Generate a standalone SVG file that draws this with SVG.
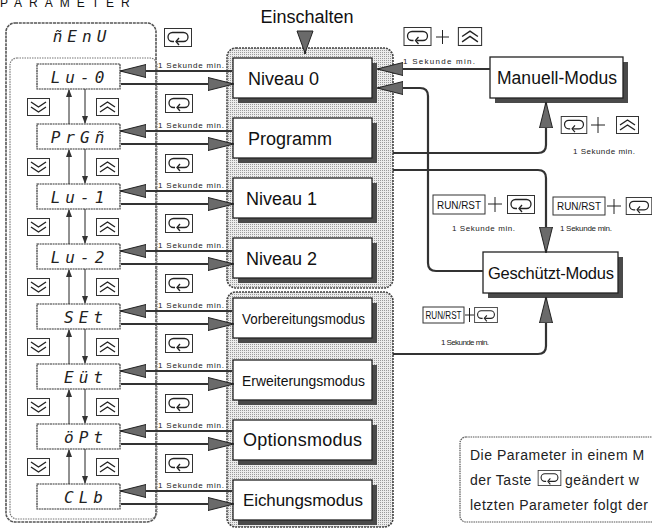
<svg xmlns="http://www.w3.org/2000/svg" xmlns:xlink="http://www.w3.org/1999/xlink" width="652" height="530" viewBox="0 0 652 530">
<defs>
<style>
text{font-family:"Liberation Sans",Arial,sans-serif;fill:#111}
.seg{font-family:"DejaVu Sans Mono",monospace;font-style:italic;font-size:16px;letter-spacing:5px;text-anchor:middle;fill:#222}
.disp{fill:#fff;stroke:#333;stroke-width:1.2;stroke-dasharray:2 0.6}
.mode{fill:#fff;stroke:#222;stroke-width:1.3}
.shadow{fill:#4a4a4a}
.cont{fill:url(#dots);stroke:#444;stroke-width:1.6;stroke-dasharray:2 1}
.mt{font-size:18px}
.sk{font-size:8px;fill:#222}
.ln{fill:none;stroke:#333;stroke-width:2.2}
.thin{fill:none;stroke:#222;stroke-width:1}
.rr{font-size:10px;text-anchor:middle}
.key{fill:#fff;stroke:#333;stroke-width:1}
.nt{font-size:14px;letter-spacing:0.5px;fill:#222}
</style>
<pattern id="dots" width="2" height="2" patternUnits="userSpaceOnUse">
<rect width="2" height="2" fill="#ececec"/>
<rect width="1" height="1" fill="#9a9a9a"/>
</pattern>
<marker id="ah" markerUnits="userSpaceOnUse" markerWidth="26" markerHeight="14" refX="25" refY="7" orient="auto">
<path d="M0,0.5 L26,7 L0,13.5 z" fill="#6a6a6a" stroke="#222" stroke-width="1"/>
</marker>
<marker id="sa" markerUnits="userSpaceOnUse" markerWidth="8" markerHeight="8" refX="7" refY="4" orient="auto">
<path d="M0,1 L8,4 L0,7 z" fill="#333"/>
</marker>
<symbol id="kEnter" viewBox="0 0 28 19">
<rect x="0.5" y="0.5" width="27" height="18" fill="#fff" stroke="#333"/>
<path d="M13 13.5 H19.5 A4.5 4.5 0 0 0 19.5 4.5 H8.5 A4.5 4.5 0 0 0 8.5 13.5 H10" fill="none" stroke="#222" stroke-width="1.3"/>
<path d="M15 10 L12 13.5 L15 17" fill="none" stroke="#222" stroke-width="1.3"/>
</symbol>
<symbol id="kDown" viewBox="0 0 23 18">
<rect x="0.5" y="0.5" width="22" height="17" fill="#fff" stroke="#333"/>
<path d="M4 4 L11.5 9 L19 4 M4 9 L11.5 14 L19 9" fill="none" stroke="#222" stroke-width="1.4"/>
</symbol>
<symbol id="kUp" viewBox="0 0 23 18">
<rect x="0.5" y="0.5" width="22" height="17" fill="#fff" stroke="#333"/>
<path d="M4 9 L11.5 4 L19 9 M4 14 L11.5 9 L19 14" fill="none" stroke="#222" stroke-width="1.4"/>
</symbol>
</defs>
<rect width="652" height="530" fill="#fff"/>

<text x="0" y="7" font-size="12" letter-spacing="7">PARAMETER</text>

<!-- left column frames -->
<g id="menu-frame">
<rect x="6" y="23" width="150" height="499" rx="9" fill="none" stroke="#555" stroke-width="1.6" stroke-dasharray="3 0.8"/>
<rect x="10" y="58" width="147" height="461" rx="7" fill="none" stroke="#777" stroke-width="1.2" stroke-dasharray="1.5 1"/>
<text class="seg" x="82" y="42" font-size="19" letter-spacing="8">ñEnU</text>
<use href="#kEnter" x="164" y="28" width="28" height="19"/>
</g>

<!-- displays -->
<g id="d-lv0"><rect class="disp" x="37" y="64" width="83" height="25"/><text class="seg" x="80" y="83">Lu-0</text></g>
<g id="d-prgm"><rect class="disp" x="37" y="124" width="83" height="25"/><text class="seg" x="80" y="143">PrGñ</text></g>
<g id="d-lv1"><rect class="disp" x="37" y="184" width="83" height="25"/><text class="seg" x="80" y="203">Lu-1</text></g>
<g id="d-lv2"><rect class="disp" x="37" y="244" width="83" height="25"/><text class="seg" x="80" y="263">Lu-2</text></g>
<g id="d-set"><rect class="disp" x="37" y="304" width="83" height="25"/><text class="seg" x="86" y="323">SEt</text></g>
<g id="d-ext"><rect class="disp" x="37" y="364" width="83" height="25"/><text class="seg" x="86" y="383">Eüt</text></g>
<g id="d-opt"><rect class="disp" x="37" y="424" width="83" height="25"/><text class="seg" x="86" y="443">öPt</text></g>
<g id="d-clb"><rect class="disp" x="37" y="484" width="83" height="25"/><text class="seg" x="86" y="503">CLb</text></g>

<!-- keys between displays -->
<g id="keys">
<use href="#kDown" x="27" y="98" width="23" height="18"/><use href="#kUp" x="96" y="98" width="23" height="18"/>
<use href="#kDown" x="27" y="158" width="23" height="18"/><use href="#kUp" x="96" y="158" width="23" height="18"/>
<use href="#kDown" x="27" y="218" width="23" height="18"/><use href="#kUp" x="96" y="218" width="23" height="18"/>
<use href="#kDown" x="27" y="278" width="23" height="18"/><use href="#kUp" x="96" y="278" width="23" height="18"/>
<use href="#kDown" x="27" y="338" width="23" height="18"/><use href="#kUp" x="96" y="338" width="23" height="18"/>
<use href="#kDown" x="27" y="398" width="23" height="18"/><use href="#kUp" x="96" y="398" width="23" height="18"/>
<use href="#kDown" x="27" y="458" width="23" height="18"/><use href="#kUp" x="96" y="458" width="23" height="18"/>
<use href="#kEnter" x="165" y="94" width="28" height="19"/>
<use href="#kEnter" x="165" y="154" width="28" height="19"/>
<use href="#kEnter" x="165" y="214" width="28" height="19"/>
<use href="#kEnter" x="165" y="274" width="28" height="19"/>
<use href="#kEnter" x="165" y="334" width="28" height="19"/>
<use href="#kEnter" x="165" y="394" width="28" height="19"/>
<use href="#kEnter" x="165" y="454" width="28" height="19"/>
</g>

<!-- "1 Sekunde min." labels in column -->
<g id="sec-labels">
<text class="sk" x="158" y="68" textLength="66">1 Sekunde min.</text>
<text class="sk" x="158" y="128" textLength="66">1 Sekunde min.</text>
<text class="sk" x="158" y="188" textLength="66">1 Sekunde min.</text>
<text class="sk" x="158" y="248" textLength="66">1 Sekunde min.</text>
<text class="sk" x="158" y="308" textLength="66">1 Sekunde min.</text>
<text class="sk" x="158" y="368" textLength="66">1 Sekunde min.</text>
<text class="sk" x="158" y="428" textLength="66">1 Sekunde min.</text>
<text class="sk" x="158" y="488" textLength="66">1 Sekunde min.</text>
</g>

<!-- containers -->
<g id="group-levels"><rect class="cont" x="227" y="48" width="166" height="240" rx="9"/></g>
<g id="group-modes"><rect class="cont" x="227" y="292" width="166" height="235" rx="9"/></g>

<text x="307" y="23" font-size="18" text-anchor="middle">Einschalten</text>

<!-- mode boxes -->
<g id="m-niveau0"><rect class="shadow" x="238" y="63" width="139" height="40"/><rect class="mode" x="233" y="58" width="139" height="40"/><text class="mt" x="248" y="85">Niveau 0</text></g>
<g id="m-programm"><rect class="shadow" x="238" y="123" width="139" height="40"/><rect class="mode" x="233" y="118" width="139" height="40"/><text class="mt" x="248" y="145">Programm</text></g>
<g id="m-niveau1"><rect class="shadow" x="238" y="183" width="139" height="40"/><rect class="mode" x="233" y="178" width="139" height="40"/><text class="mt" x="246" y="205">Niveau 1</text></g>
<g id="m-niveau2"><rect class="shadow" x="238" y="243" width="139" height="40"/><rect class="mode" x="233" y="238" width="139" height="40"/><text class="mt" x="246" y="265">Niveau 2</text></g>
<g id="m-vorb"><rect class="shadow" x="238" y="303" width="139" height="40"/><rect class="mode" x="233" y="298" width="139" height="40"/><text x="242" y="324" font-size="15" textLength="123" lengthAdjust="spacingAndGlyphs">Vorbereitungsmodus</text></g>
<g id="m-erw"><rect class="shadow" x="238" y="365" width="139" height="40"/><rect class="mode" x="233" y="360" width="139" height="40"/><text x="242" y="386" font-size="15" textLength="123" lengthAdjust="spacingAndGlyphs">Erweiterungsmodus</text></g>
<g id="m-opt"><rect class="shadow" x="238" y="425" width="139" height="40"/><rect class="mode" x="233" y="420" width="139" height="40"/><text x="243" y="446" font-size="18" textLength="119">Optionsmodus</text></g>
<g id="m-eich"><rect class="shadow" x="238" y="485" width="139" height="40"/><rect class="mode" x="233" y="480" width="139" height="40"/><text x="243" y="506" font-size="17" textLength="120">Eichungsmodus</text></g>

<g id="m-manuell"><rect class="shadow" x="495" y="62" width="133" height="41"/><rect class="mode" x="490" y="57" width="133" height="41"/><text x="497" y="84" font-size="17.5" textLength="120">Manuell-Modus</text></g>
<g id="m-geschuetzt"><rect class="shadow" x="488" y="257" width="135" height="41"/><rect class="mode" x="483" y="252" width="135" height="41"/><text x="488" y="279" font-size="16.5" textLength="126">Geschützt-Modus</text></g>

<!-- connectors -->
<g id="connectors">
<path d="M305 31 V54" class="ln"/>
<polygon points="297,31 313,31 305,53" fill="#6a6a6a" stroke="#222"/>
<!-- display <-> mode arrows -->
<path class="ln" d="M232 71 H121" marker-end="url(#ah)"/><path class="ln" d="M121 84 H233" marker-end="url(#ah)"/>
<path class="ln" d="M232 131 H121" marker-end="url(#ah)"/><path class="ln" d="M121 144 H233" marker-end="url(#ah)"/>
<path class="ln" d="M232 191 H121" marker-end="url(#ah)"/><path class="ln" d="M121 204 H233" marker-end="url(#ah)"/>
<path class="ln" d="M232 251 H121" marker-end="url(#ah)"/><path class="ln" d="M121 264 H233" marker-end="url(#ah)"/>
<path class="ln" d="M232 311 H121" marker-end="url(#ah)"/><path class="ln" d="M121 324 H233" marker-end="url(#ah)"/>
<path class="ln" d="M232 371 H121" marker-end="url(#ah)"/><path class="ln" d="M121 384 H233" marker-end="url(#ah)"/>
<path class="ln" d="M232 431 H121" marker-end="url(#ah)"/><path class="ln" d="M121 444 H233" marker-end="url(#ah)"/>
<path class="ln" d="M232 491 H121" marker-end="url(#ah)"/><path class="ln" d="M121 504 H233" marker-end="url(#ah)"/>
<!-- vertical up/down between displays -->
<path class="thin" d="M69 124 V90" marker-end="url(#sa)"/><path class="thin" d="M85 89 V123" marker-end="url(#sa)"/>
<path class="thin" d="M69 184 V150" marker-end="url(#sa)"/><path class="thin" d="M85 149 V183" marker-end="url(#sa)"/>
<path class="thin" d="M69 244 V210" marker-end="url(#sa)"/><path class="thin" d="M85 209 V243" marker-end="url(#sa)"/>
<path class="thin" d="M69 304 V270" marker-end="url(#sa)"/><path class="thin" d="M85 269 V303" marker-end="url(#sa)"/>
<path class="thin" d="M69 364 V330" marker-end="url(#sa)"/><path class="thin" d="M85 329 V363" marker-end="url(#sa)"/>
<path class="thin" d="M69 424 V390" marker-end="url(#sa)"/><path class="thin" d="M85 389 V423" marker-end="url(#sa)"/>
<path class="thin" d="M69 484 V450" marker-end="url(#sa)"/><path class="thin" d="M85 449 V483" marker-end="url(#sa)"/>
<!-- right side -->
<path class="ln" d="M490 69 H378" marker-end="url(#ah)"/>
<path class="ln" d="M483 271 H436 Q428 271 428 263 V96 Q428 88 420 88 H378" marker-end="url(#ah)"/>
<path class="ln" d="M393 153 H538 Q546 153 546 145 V103" marker-end="url(#ah)"/>
<path class="ln" d="M393 170 H538 Q546 170 546 178 V252" marker-end="url(#ah)"/>
<path class="ln" d="M393 354 H538 Q546 354 546 346 V298" marker-end="url(#ah)"/>
</g>

<!-- key combination labels -->
<g id="lbl-top">
<use href="#kEnter" x="402" y="27" width="31" height="19"/>
<path d="M436 37 H449 M442.5 30 V44" class="thin"/>
<use href="#kUp" x="455" y="27" width="30" height="19"/>
<text class="sk" x="403" y="64" textLength="72">1 Sekunde min.</text>
</g>
<g id="lbl-manuell">
<use href="#kEnter" x="560" y="116" width="28" height="18"/>
<path d="M591 125 H605 M598 117 V133" class="thin"/>
<use href="#kUp" x="612" y="116" width="31" height="18"/>
<text class="sk" x="573" y="154" textLength="62">1 Sekunde min.</text>
</g>
<g id="lbl-run1">
<rect class="key" x="433" y="195" width="52" height="19"/><text class="rr" x="459" y="209" textLength="44" lengthAdjust="spacingAndGlyphs">RUN/RST</text>
<path d="M488 204 H502 M495 197 V212" class="thin"/>
<use href="#kEnter" x="505" y="195" width="32" height="19"/>
<text class="sk" x="452" y="231" textLength="63">1 Sekunde min.</text>
</g>
<g id="lbl-run2">
<rect class="key" x="553" y="197" width="52" height="18"/><text class="rr" x="579" y="210" textLength="44" lengthAdjust="spacingAndGlyphs">RUN/RST</text>
<path d="M607 206 H621 M614 199 V214" class="thin"/>
<use href="#kEnter" x="623" y="197" width="32" height="18"/>
<text class="sk" x="560" y="231" textLength="52">1 Sekunde min.</text>
</g>
<g id="lbl-run3">
<rect class="key" x="423" y="307" width="41" height="16"/><text class="rr" x="443.5" y="319" textLength="36" lengthAdjust="spacingAndGlyphs">RUN/RST</text>
<path d="M465 315 H474 M469.5 308 V322" class="thin"/>
<use href="#kEnter" x="474" y="307" width="24" height="16"/>
<text class="sk" x="441" y="345" textLength="48">1 Sekunde min.</text>
</g>

<!-- note -->
<g id="note">
<rect x="460" y="437" width="210" height="85" rx="6" fill="#fff" stroke="#555" stroke-width="1.2" stroke-dasharray="1.5 0.8"/>
<text class="nt" x="470" y="460">Die Parameter in einem M</text>
<text class="nt" x="470" y="485">der Taste</text>
<use href="#kEnter" x="537" y="470" width="25" height="16"/>
<text class="nt" x="565" y="485">geändert w</text>
<text class="nt" x="470" y="510">letzten Parameter folgt der</text>
</g>
</svg>
